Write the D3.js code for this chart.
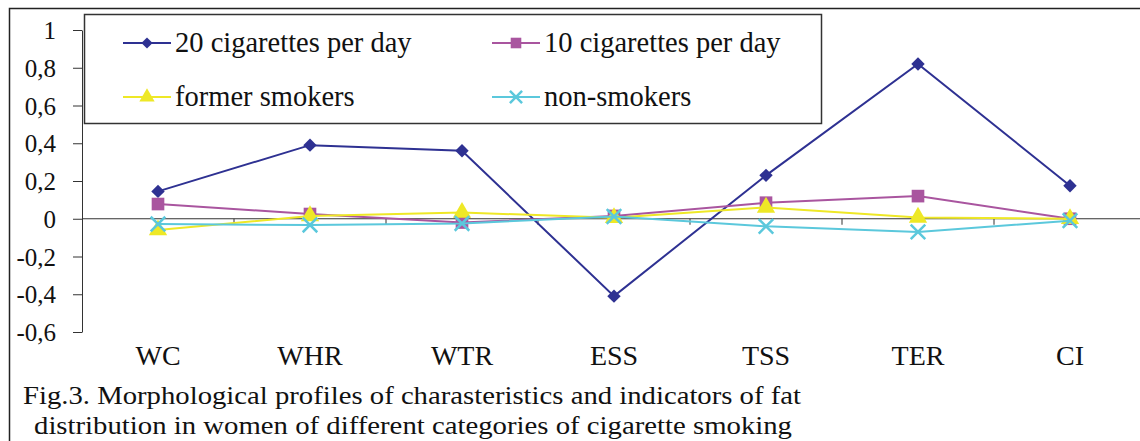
<!DOCTYPE html>
<html>
<head>
<meta charset="utf-8">
<script src="https://cdn.jsdelivr.net/npm/d3@7"></script>
<style>
  body { margin: 0; background: #fff; }
  svg { display: block; font-family: "Liberation Serif", "Times New Roman", serif; }
</style>
</head>
<body>
<svg id="chart" width="1140" height="441"></svg>
<script>
// data
var categories = ["WC", "WHR", "WTR", "ESS", "TSS", "TER", "CI"];
var cig20   = [0.145, 0.39, 0.36, -0.41, 0.23, 0.82, 0.175];
var cig10   = [0.078, 0.025, -0.02, 0.015, 0.085, 0.12, 0.0];
var former  = [-0.06, 0.015, 0.033, 0.005, 0.06, 0.007, 0.0];
var nonsmk  = [-0.028, -0.033, -0.025, 0.012, -0.04, -0.07, -0.01];
var yTicks  = [1, 0.8, 0.6, 0.4, 0.2, 0, -0.2, -0.4, -0.6];
var seriesNames = ["20 cigarettes per day", "10 cigarettes per day", "former smokers", "non-smokers"];

var serif = "'Liberation Serif', 'Times New Roman', serif";

var series = [
    {name: seriesNames[0], values: cig20,  color: "#2e3192", sym: "diamond"},
    {name: seriesNames[1], values: cig10,  color: "#a9559f", sym: "square"},
    {name: seriesNames[2], values: former, color: "#eee826", sym: "triangle"},
    {name: seriesNames[3], values: nonsmk, color: "#5bc8dc", sym: "cross"}
];

var svg = d3.select("#chart"),
    margin = {top: 30, left: 82, bottom: 332, right: 1146};

// outer frame
svg.append("rect")
    .attr("x", 9.5).attr("y", 8.5)
    .attr("width", 1160).attr("height", 460)
    .attr("fill", "none").attr("stroke", "#222").attr("stroke-width", 1.5);

var x = d3.scaleBand()
    .domain(categories)
    .range([margin.left, margin.right]);

var y = d3.scaleLinear()
    .domain([-0.6, 1])
    .range([margin.bottom, margin.top]);

var fmt = function(d){ return String(d).replace(".", ","); };

// y axis
var yAxis = svg.append("g")
    .attr("transform", `translate(${margin.left},0)`)
    .call(d3.axisLeft(y).tickValues(yTicks).tickFormat(fmt).tickSize(9).tickSizeOuter(0).tickPadding(17))
    .attr("font-family", serif);
yAxis.selectAll("text").style("font-size", "25px").attr("fill", "#111").attr("dy", "0.34em");
yAxis.selectAll("line, path").attr("stroke", "#333");

// zero line with category boundary ticks
svg.append("line")
    .attr("x1", margin.left).attr("x2", margin.right)
    .attr("y1", y(0)).attr("y2", y(0))
    .attr("stroke", "#333");
svg.selectAll(".bnd")
    .data(categories.slice(1))
    .enter().append("line")
    .attr("class", "bnd")
    .attr("x1", d => x(d)).attr("x2", d => x(d))
    .attr("y1", y(0)).attr("y2", y(0) + 6)
    .attr("stroke", "#333");

// category labels at bottom
var xAxis = svg.append("g")
    .attr("transform", `translate(0,${margin.bottom})`)
    .call(d3.axisBottom(x).tickSize(0).tickPadding(13))
    .attr("font-family", serif);
xAxis.select(".domain").remove();
xAxis.selectAll("text").style("font-size", "28px").attr("fill", "#111");

// diamond = square turned 45deg, like the excel marker
var symTypes = {diamond: d3.symbolSquare, square: d3.symbolSquare, triangle: d3.symbolTriangle, cross: d3.symbolTimes};
var symSize = {diamond: 90, square: 160, triangle: 145, cross: 140};

function drawMarker(g, s, cx, cy, scale) {
    var p = d3.symbol().type(symTypes[s.sym]).size(symSize[s.sym] * (scale || 1))();
    var rot = s.sym === "diamond" ? " rotate(45)" : "";
    var m = g.append("path").attr("d", p).attr("transform", `translate(${cx},${cy})` + rot);
    if (s.sym === "cross") m.attr("fill", "none").attr("stroke", s.color).attr("stroke-width", 2.5);
    else m.attr("fill", s.color);
}

var line = d3.line()
    .x((d, i) => x(categories[i]) + x.bandwidth() / 2)
    .y(d => y(d));

series.forEach(function(s) {
    var g = svg.append("g");
    g.append("path")
        .datum(s.values)
        .attr("d", line)
        .attr("fill", "none")
        .attr("stroke", s.color)
        .attr("stroke-width", 2);
    s.values.forEach(function(v, i) {
        drawMarker(g, s, x(categories[i]) + x.bandwidth() / 2, y(v));
    });
});

// legend
var lg = svg.append("g");
lg.append("rect")
    .attr("x", 84.5).attr("y", 14.5)
    .attr("width", 737).attr("height", 109)
    .attr("fill", "#fff").attr("stroke", "#333").attr("stroke-width", 1.5);
var legPos = [[123, 43], [492, 43], [123, 97], [492, 97]];
series.forEach(function(s, k) {
    var px = legPos[k][0], py = legPos[k][1];
    lg.append("line")
        .attr("x1", px).attr("x2", px + 48)
        .attr("y1", py).attr("y2", py)
        .attr("stroke", s.color).attr("stroke-width", 2);
    drawMarker(lg, s, px + 24, py, 0.7);
    lg.append("text")
        .attr("x", px + 52).attr("y", py)
        .attr("dy", "0.33em")
        .style("font-size", "28.5px")
        .attr("fill", "#111")
        .text(s.name);
});

// caption
var caption = svg.append("text").style("font-size", "26px").attr("fill", "#111");
caption.append("tspan").attr("x", 23).attr("y", 404)
    .attr("textLength", 778).attr("lengthAdjust", "spacingAndGlyphs")
    .text("Fig.3. Morphological profiles of charasteristics and indicators of fat");
caption.append("tspan").attr("x", 34).attr("y", 434)
    .attr("textLength", 758).attr("lengthAdjust", "spacingAndGlyphs")
    .text("distribution in women of different categories of cigarette smoking");
</script>
</body>
</html>
